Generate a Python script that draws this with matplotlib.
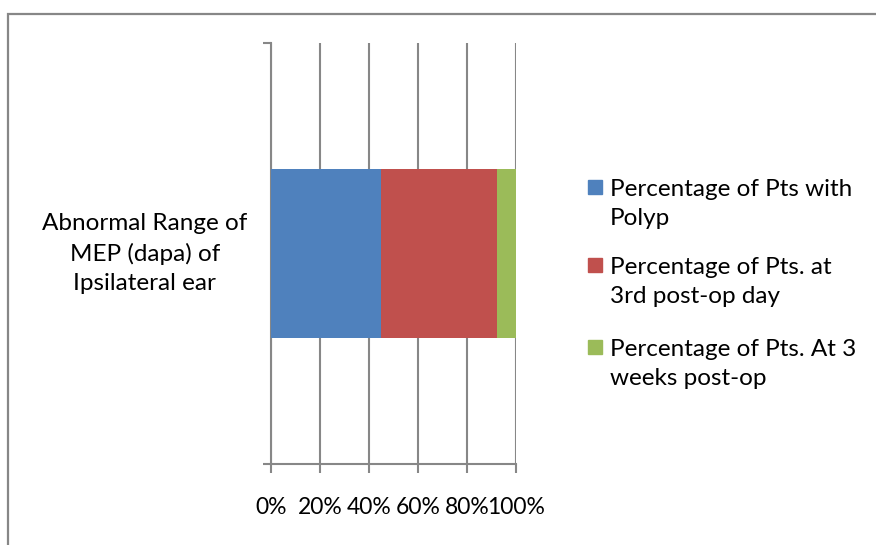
import matplotlib.pyplot as plt
from matplotlib.patches import Rectangle
from matplotlib.transforms import ScaledTranslation
import numpy as np

plt.rcParams['font.family'] = ['Lato', 'DejaVu Sans']

category = "Abnormal Range of\nMEP (dapa) of\nIpsilateral ear"
series_names = ["Percentage of Pts with\nPolyp",
                "Percentage of Pts. at\n3rd post-op day",
                "Percentage of Pts. At 3\nweeks post-op"]
series_values = [44.8, 47.4, 7.8]
series_colors = ['#4F81BD', '#C0504D', '#9BBB59']
xticks = [0, 20, 40, 60, 80, 100]
xtick_labels = ['0%', '20%', '40%', '60%', '80%', '100%']

W, H = 876, 545
grey = '#878787'
fs = 17.5
ls = 1.47

fig = plt.figure(figsize=(W / 100, H / 100), dpi=100)
ax = fig.add_axes([271 / W, 1 - 464 / H, 245 / W, 421 / H])

# outer chart frame (cut off at right/bottom like the source)
fig.patches.append(Rectangle((8 / W, -0.1), 1.2, 1 - 14 / H + 0.1, transform=fig.transFigure,
                             fill=False, edgecolor=grey, linewidth=1.6, zorder=0))

total = sum(series_values)
left = 0
for v, c in zip(series_values, series_colors):
    pct = v / total * 100
    ax.barh(0, pct, left=left, height=0.4, color=c, zorder=3)
    left += pct

ax.set_xlim(0, 100)
ax.set_ylim(-0.5, 0.5)
ax.set_xticks(xticks)
ax.set_xticklabels(xtick_labels, fontsize=16.5)
ax.xaxis.grid(True, color=grey, linewidth=1.5, zorder=0)
ax.set_axisbelow(True)
ax.tick_params(axis='x', direction='out', length=6.5, width=1.5, color=grey, pad=17)

ax.set_yticks([0])
ax.set_yticklabels([category], fontsize=fs, multialignment='center', linespacing=ls)
ax.tick_params(axis='y', which='major', length=0, pad=17)
ax.set_yticks([-0.5, 0.5], minor=True)
ax.tick_params(axis='y', which='minor', direction='out', length=6, width=1.5, color=grey)
for lab in ax.get_yticklabels():
    lab.set_transform(lab.get_transform() + ScaledTranslation(0, 6 / 100, fig.dpi_scale_trans))

for s in ['top', 'right']:
    ax.spines[s].set_visible(False)
for s in ['left', 'bottom']:
    ax.spines[s].set_color(grey)
    ax.spines[s].set_linewidth(1.5)

# legend drawn by hand so the swatch sits on the first line
tops = [179, 257, 339]
for name, c, t in zip(series_names, series_colors, tops):
    fig.patches.append(Rectangle((588 / W, 1 - (t + 15) / H), 14 / W, 14 / H,
                                 transform=fig.transFigure, color=c))
    fig.text(610 / W, 1 - t / H, name, fontsize=fs, va='top', ha='left', linespacing=ls)

fig.savefig('out.png', dpi=100)
